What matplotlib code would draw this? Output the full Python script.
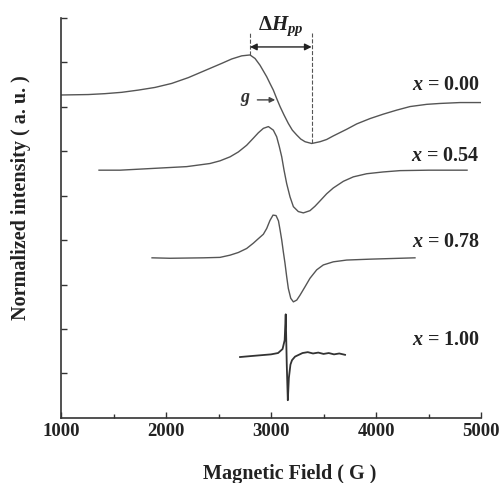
import matplotlib.pyplot as plt
import numpy as np

# EPR spectra, values (field in G, intensity in a.u. with offsets)
field_000 = [1000, 1260, 1419, 1578, 1736, 1895, 2054, 2212, 2371, 2530, 2626, 2721,
             2800, 2848, 2895, 2927, 2959, 2990, 3022, 3054, 3086, 3124, 3165, 3203,
             3245, 3283, 3324, 3387, 3467, 3530, 3593, 3721, 3816, 3943, 4070, 4197,
             4324, 4483, 4610, 4800, 5000]
int_000 = [7.26, 7.27, 7.29, 7.32, 7.37, 7.43, 7.52, 7.65, 7.81, 7.97, 8.07, 8.14,
           8.16, 8.08, 7.93, 7.80, 7.67, 7.52, 7.37, 7.18, 7.00, 6.81, 6.62, 6.47,
           6.36, 6.27, 6.21, 6.17, 6.21, 6.26, 6.34, 6.49, 6.61, 6.73, 6.83, 6.92,
           7.00, 7.05, 7.07, 7.09, 7.09]

field_054 = [1362, 1562, 1721, 1879, 2038, 2197, 2324, 2419, 2514, 2610, 2689, 2768,
             2832, 2879, 2927, 2975, 3022, 3054, 3079, 3102, 3124, 3149, 3181, 3213,
             3260, 3308, 3371, 3419, 3467, 3530, 3593, 3689, 3784, 3911, 4067, 4229,
             4500, 4867]
int_054 = [5.57, 5.57, 5.59, 5.61, 5.63, 5.65, 5.69, 5.72, 5.78, 5.87, 5.98, 6.13,
           6.29, 6.41, 6.51, 6.55, 6.47, 6.32, 6.10, 5.87, 5.57, 5.27, 4.97, 4.75,
           4.64, 4.61, 4.66, 4.76, 4.88, 5.04, 5.17, 5.32, 5.42, 5.49, 5.53, 5.56,
           5.57, 5.57]

field_078 = [1867, 2038, 2355, 2514, 2610, 2689, 2768, 2832, 2879, 2927, 2959, 2990,
             3019, 3048, 3071, 3086, 3102, 3117, 3133, 3149, 3165, 3188, 3213, 3245,
             3276, 3324, 3371, 3435, 3498, 3593, 3721, 3943, 4371]
int_078 = [3.60, 3.59, 3.60, 3.61, 3.66, 3.72, 3.81, 3.93, 4.03, 4.13, 4.26, 4.44,
           4.56, 4.55, 4.43, 4.23, 4.00, 3.74, 3.48, 3.18, 2.91, 2.69, 2.61, 2.65,
           2.76, 2.95, 3.14, 3.33, 3.44, 3.51, 3.55, 3.57, 3.60]

field_100 = [2705, 2800, 2900, 3000, 3067, 3110, 3130, 3140, 3150, 3160, 3170, 3185,
             3200, 3229, 3300, 3350, 3400, 3450, 3500, 3550, 3600, 3650, 3705]
int_100 = [1.37, 1.39, 1.41, 1.43, 1.46, 1.55, 1.75, 2.33, 1.20, 0.40, 0.90, 1.20,
           1.30, 1.38, 1.46, 1.48, 1.45, 1.47, 1.44, 1.46, 1.43, 1.45, 1.42]

labels = ["x = 0.00", "x = 0.54", "x = 0.78", "x = 1.00"]
label_y = [7.48, 5.88, 3.95, 1.75]

plt.rcParams['font.family'] = 'Liberation Serif'
plt.rcParams['font.weight'] = 'bold'
plt.rcParams['mathtext.fontset'] = 'custom'
plt.rcParams['mathtext.rm'] = 'Liberation Serif:bold'
plt.rcParams['mathtext.it'] = 'Liberation Serif:italic:bold'

fig = plt.figure(figsize=(5.03, 4.83), dpi=100)
ax = fig.add_axes([0.1213, 0.1346, 0.835, 0.829])

col = '#555555'
ax.plot(field_000, int_000, color=col, lw=1.0)
ax.plot(field_054, int_054, color=col, lw=1.0)
ax.plot(field_078, int_078, color=col, lw=1.0)
ax.plot(field_100, int_100, color='#333333', lw=1.3)

for lab, y in zip(labels, label_y):
    ax.text(4990, y, "$x$" + lab[1:], ha='right', va='center', fontsize=14.5,
            fontweight='bold', color='#222222')

# delta H_pp marking from peak and trough of the x = 0.00 spectrum
i_max = int(np.argmax(int_000))
i_min = int(np.argmin(int_000))
h1, h2 = field_000[i_max], field_000[i_min]
ax.plot([h1, h1], [int_000[i_max], 8.65], ls='--', color=col, lw=0.8)
ax.plot([h2, h2], [int_000[i_min], 8.65], ls='--', color=col, lw=0.8)
ax.annotate('', xy=(h1, 8.34), xytext=(h2, 8.34),
            arrowprops=dict(arrowstyle='<|-|>', color='#222222', lw=1.0,
                            shrinkA=0, shrinkB=0, mutation_scale=10))
ax.text((h1 + h2) / 2, 8.8, r"$\Delta H_{pp}$", ha='center', va='center',
        fontsize=15, color='#222222')

ax.annotate('', xy=(3040, 7.15), xytext=(2870, 7.15),
            arrowprops=dict(arrowstyle='-|>', color='#444444', lw=1.0,
                            shrinkA=0, shrinkB=0, mutation_scale=8))
ax.text(2760, 7.15, "$g$", ha='center', va='center', fontsize=13, color='#333333')

ax.set_xlim(1000, 5000)
ax.set_ylim(0, 9)
ax.set_xticks([1000, 2000, 3000, 4000, 5000])
ax.set_xticks([1500, 2500, 3500, 4500], minor=True)
ax.set_yticks(range(1, 10))
ax.set_yticklabels([])
ax.tick_params(direction='in', length=4, width=1, colors='#333333', labelsize=13.5,
               labelcolor='#222222')
ax.tick_params(which='minor', direction='in', length=3, width=1, colors='#333333')
for t in ax.get_xticklabels():
    t.set_fontweight('bold')
ax.spines['top'].set_visible(False)
ax.spines['right'].set_visible(False)
for s in ['left', 'bottom']:
    ax.spines[s].set_color('#333333')
    ax.spines[s].set_linewidth(1.2)

ax.set_xlabel("Magnetic Field ( G )", fontsize=14.5, fontweight='bold', color='#222222')
ax.xaxis.set_label_coords(0.545, -0.115)
ax.set_ylabel("Normalized intensity ( a. u. )", fontsize=14.5, fontweight='bold', color='#222222')
ax.yaxis.set_label_coords(-0.072, 0.55)

fig.savefig('out.png', dpi=100)
